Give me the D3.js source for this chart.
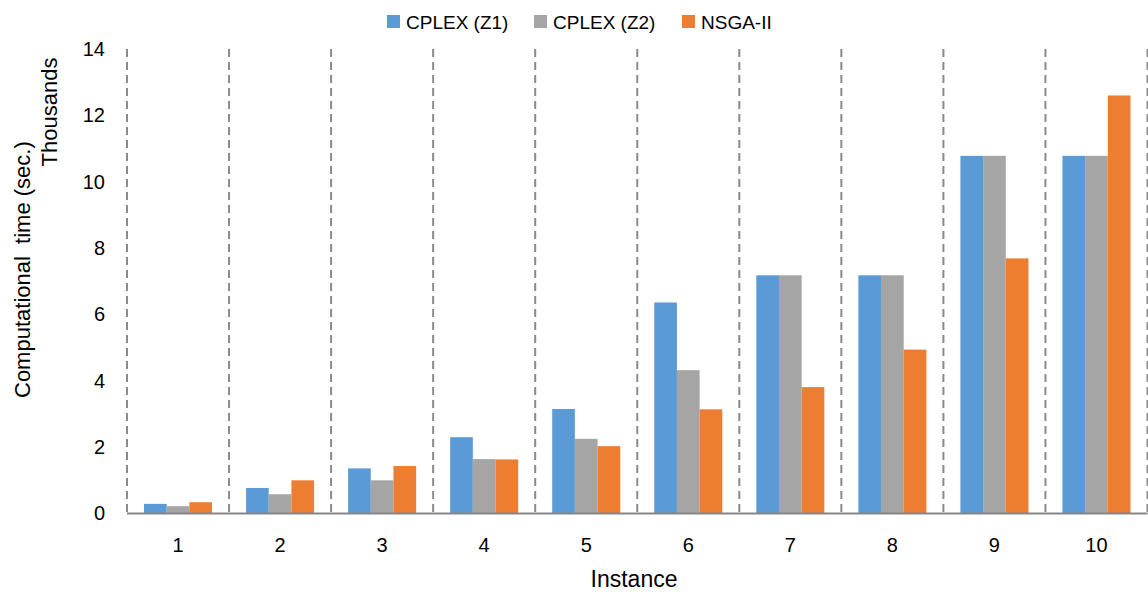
<!DOCTYPE html>
<html>
<head>
<meta charset="utf-8">
<script src="https://cdn.jsdelivr.net/npm/d3@7"></script>
<style>
  body { margin: 0; background: #fff; }
  text { font-family: "Liberation Sans", Arial, sans-serif; fill: #000; }
</style>
</head>
<body>
<svg id="chart" width="1148" height="592"></svg>
<script>
// data (values in thousands of seconds)
var instances = ["1", "2", "3", "4", "5", "6", "7", "8", "9", "10"];
var seriesNames = ["CPLEX (Z1)", "CPLEX (Z2)", "NSGA-II"];
var cplexZ1 = [0.29, 0.77, 1.36, 2.30, 3.15, 6.36, 7.18, 7.18, 10.78, 10.78];
var cplexZ2 = [0.22, 0.58, 1.00, 1.64, 2.25, 4.32, 7.18, 7.18, 10.78, 10.78];
var nsga2   = [0.34, 1.00, 1.43, 1.63, 2.03, 3.14, 3.81, 4.94, 7.69, 12.60];
var yTicks = [0, 2, 4, 6, 8, 10, 12, 14];
var colors = ["#5B9BD5", "#A5A5A5", "#ED7D31"];

var allSeries = [cplexZ1, cplexZ2, nsga2];

var svg = d3.select("#chart");

var x = d3.scaleBand()
  .domain(instances)
  .range([127, 1147.5])
  .padding(0);

var xInner = d3.scaleBand()
  .domain(seriesNames)
  .range([0, x.bandwidth()])
  .paddingInner(0)
  .paddingOuter(0.75);

var y = d3.scaleLinear()
  .domain([0, 14])
  .range([513.5, 49]);

// dashed vertical gridlines at category boundaries
var bounds = instances.map(function(d) { return x(d); }).concat([x.range()[1]]);
svg.append("g").selectAll("line")
  .data(bounds)
  .enter().append("line")
  .attr("x1", function(d) { return d; })
  .attr("x2", function(d) { return d; })
  .attr("y1", y(14))
  .attr("y2", y(0))
  .style("stroke", "#8a8a8a")
  .style("stroke-width", 2)
  .style("stroke-dasharray", "8,5");

// bars
var groups = svg.append("g").selectAll("g")
  .data(instances)
  .enter().append("g")
  .attr("transform", function(d) { return "translate(" + x(d) + ",0)"; });

groups.selectAll("rect")
  .data(function(d, i) {
    return seriesNames.map(function(s, j) { return { name: s, value: allSeries[j][i], k: j }; });
  })
  .enter().append("rect")
  .attr("x", function(d) { return xInner(d.name); })
  .attr("width", xInner.bandwidth())
  .attr("y", function(d) { return y(d.value); })
  .attr("height", function(d) { return y(0) - y(d.value); })
  .style("fill", function(d) { return colors[d.k]; });

// x axis baseline
svg.append("line")
  .attr("x1", x.range()[0])
  .attr("x2", x.range()[1])
  .attr("y1", y(0))
  .attr("y2", y(0))
  .style("stroke", "#868686")
  .style("stroke-width", 2);

// y axis (labels only)
var yAxis = svg.append("g")
  .attr("transform", "translate(105,0)")
  .call(d3.axisLeft(y).tickValues(yTicks).tickSize(0).tickPadding(0));
yAxis.select(".domain").remove();
yAxis.selectAll("text")
  .style("font-family", "'Liberation Sans', Arial, sans-serif")
  .style("font-size", "20px")
  .style("fill", "#000");

// x axis labels
var xAxis = svg.append("g")
  .attr("transform", "translate(0," + y(0) + ")")
  .call(d3.axisBottom(x).tickSize(0).tickPadding(24));
xAxis.select(".domain").remove();
xAxis.selectAll("text")
  .style("font-family", "'Liberation Sans', Arial, sans-serif")
  .style("font-size", "20px")
  .style("fill", "#000");

// axis titles
svg.append("text")
  .attr("x", 634)
  .attr("y", 587)
  .attr("text-anchor", "middle")
  .style("font-size", "23px")
  .text("Instance");

svg.append("text")
  .attr("transform", "translate(30,398) rotate(-90)")
  .attr("text-anchor", "start")
  .attr("xml:space", "preserve")
  .style("white-space", "pre")
  .style("font-size", "22px")
  .text("Computational  time (sec.)");

svg.append("text")
  .attr("transform", "translate(57,112) rotate(-90)")
  .attr("text-anchor", "middle")
  .style("font-size", "22px")
  .text("Thousands");

// legend
var legendX = [387, 534, 682];
var legend = svg.append("g").selectAll("g")
  .data(seriesNames)
  .enter().append("g")
  .attr("transform", function(d, i) { return "translate(" + legendX[i] + ",15)"; });
legend.append("rect")
  .attr("width", 13)
  .attr("height", 13)
  .style("fill", function(d, i) { return colors[i]; });
legend.append("text")
  .attr("x", 19)
  .attr("y", 14)
  .style("font-size", "19px")
  .text(function(d) { return d; });
</script>
</body>
</html>
